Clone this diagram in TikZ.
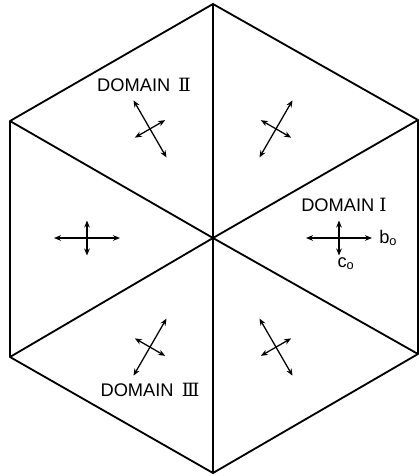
\documentclass[tikz,border=0pt]{standalone}
\usepackage{fontspec}
\setmainfont{Liberation Sans}
\newfontfamily\numfont{DejaVu Serif}
\usetikzlibrary{arrows.meta}

\begin{document}
\begin{tikzpicture}[
    x=0.025cm, y=0.025cm,
    edge/.style={line width=1.3pt, line join=round},
    twoway/.style={{Stealth[length=5pt,width=4pt]}-{Stealth[length=5pt,width=4pt]}, line width=0.9pt},
    domlabel/.style={font=\fontsize{13}{14}\selectfont, inner sep=1pt},
    axislabel/.style={font=\fontsize{13}{14}\selectfont, inner sep=1pt}
]
\useasboundingbox (-213,-238) rectangle (206,238);

% Hexagon corners and centre
\coordinate (o)  at (0,0);
\coordinate (v1) at (205,118);
\coordinate (v2) at (0,234);
\coordinate (v3) at (-203,117);
\coordinate (v4) at (-203,-119);
\coordinate (v5) at (0,-235);
\coordinate (v6) at (205,-116);

% Outline
\draw[edge] (v1) -- (v2) -- (v3) -- (v4) -- (v5) -- (v6) -- cycle;

% Spokes
\foreach \i in {1,...,6}
  \draw[edge] (o) -- (v\i);

% Crossed arrows, one in each domain
\foreach \a [count=\i] in {0,60,...,300}{
  \path (\a:126) coordinate (x\i)
        ++(\a:33) coordinate (xa\i) ++(\a+180:66) coordinate (xb\i)
        (x\i) ++(\a+90:17.5) coordinate (xc\i) ++(\a-90:35) coordinate (xd\i);
  \draw[twoway] (xa\i) -- (xb\i);
  \draw[twoway] (xc\i) -- (xd\i);
}

% Axis labels
\node[axislabel, anchor=west] (bo) at ([xshift=4]xa1) {b\textsubscript{o}};
\node[axislabel, anchor=north] (co) at ([xshift=5]xd1) {c\textsubscript{o}};

% Domain labels
\node[domlabel] (dom1) at (131,33)   {DOMAIN {\numfont Ⅰ}};
\node[domlabel] (dom2) at (-69,153)  {DOMAIN \,{\numfont Ⅱ}};
\node[domlabel] (dom3) at (-63,-152) {DOMAIN \,{\numfont Ⅲ}};

\end{tikzpicture}
\end{document}
